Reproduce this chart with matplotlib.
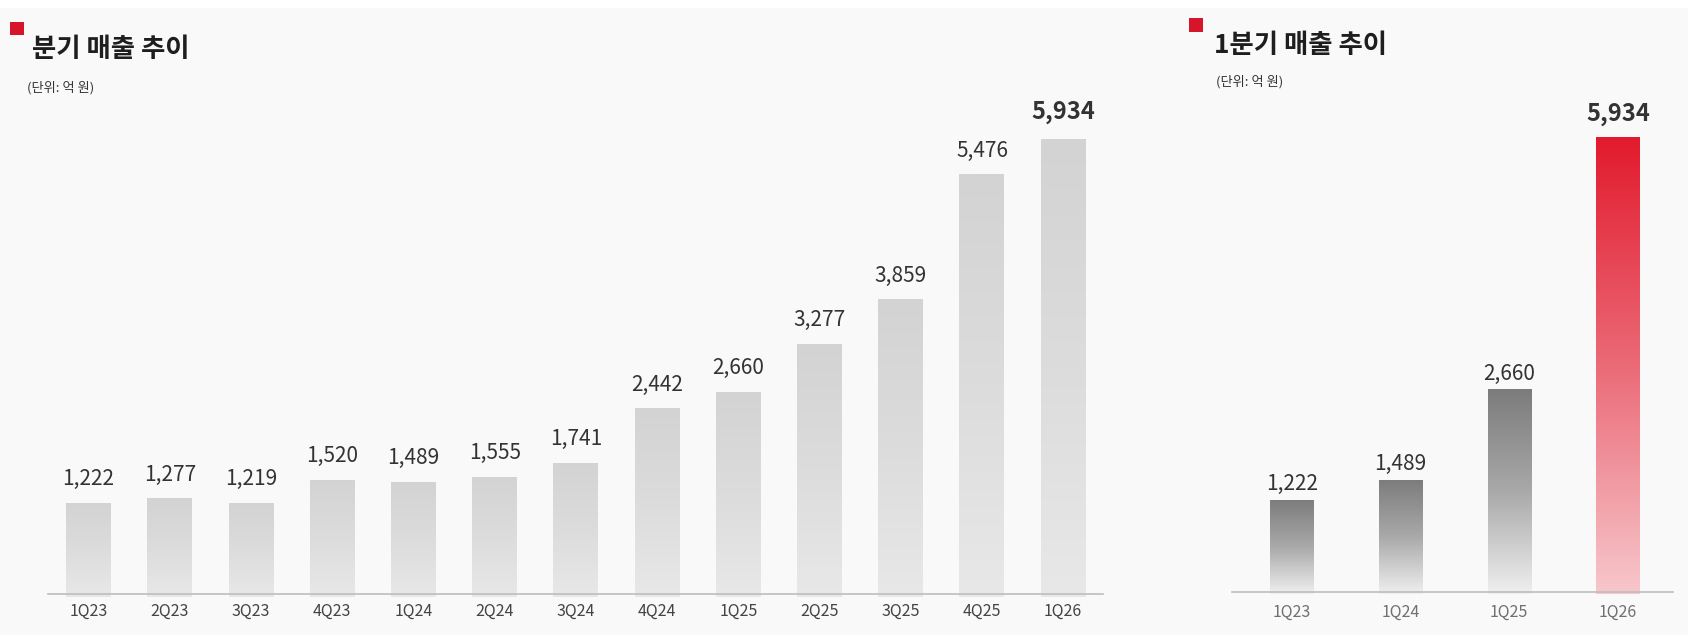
import numpy as np
import matplotlib
matplotlib.use('Agg')
import matplotlib.pyplot as plt
from matplotlib.colors import LinearSegmentedColormap
from matplotlib.patches import Rectangle

plt.rcParams['font.family'] = ['Noto Sans CJK KR', 'DejaVu Sans']

# data
quarters = ['1Q23', '2Q23', '3Q23', '4Q23', '1Q24', '2Q24', '3Q24',
            '4Q24', '1Q25', '2Q25', '3Q25', '4Q25', '1Q26']
sales = [1222, 1277, 1219, 1520, 1489, 1555, 1741,
         2442, 2660, 3277, 3859, 5476, 5934]

q1_labels = ['1Q23', '1Q24', '1Q25', '1Q26']
q1_sales = [1222, 1489, 2660, 5934]

W, H = 1692, 643
fig = plt.figure(figsize=(W / 100, H / 100), dpi=100, facecolor='white')
fig.add_artist(Rectangle((0, 8 / H), 1688 / W, 627 / H, transform=fig.transFigure,
                         facecolor='#f9f9f9', edgecolor='none', zorder=-10))

cm_light = LinearSegmentedColormap.from_list('light', ['#e8e8e8', '#dcdcdc', '#d3d3d3'])
cm_grey = LinearSegmentedColormap.from_list('grey', ['#efefef', '#a9a9a9', '#7c7c7c'])
cm_red = LinearSegmentedColormap.from_list('red', ['#f7c7cc', '#eb6a77', '#e21a2d'])
grad = np.linspace(0, 1, 256).reshape(-1, 1)


def px_axes(x0, x1, ytop, ybot):
    return fig.add_axes([x0 / W, 1 - ybot / H, (x1 - x0) / W, (ybot - ytop) / H])


def fill_gradient(ax, bars, cmaps):
    for b, cm in zip(bars, cmaps):
        x, w, h = b.get_x(), b.get_width(), b.get_height()
        im = ax.imshow(grad, extent=[x, x + w, 0, h], origin='lower', cmap=cm,
                       aspect='auto', zorder=2)
        im.set_clip_path(b)


def style(ax, color, pad):
    ax.set_facecolor('none')
    for s in ['top', 'right', 'left']:
        ax.spines[s].set_visible(False)
    ax.spines['bottom'].set_color('#bdbdbd')
    ax.spines['bottom'].set_linewidth(1.2)
    ax.set_yticks([])
    ax.tick_params(axis='x', length=0, pad=pad, labelsize=11.5, labelcolor=color)


# left chart: all quarters
ax1 = px_axes(48, 1103, 90, 594)
x = np.arange(len(quarters))
bars1 = ax1.bar(x, sales, width=0.554, facecolor='none', edgecolor='none')
fill_gradient(ax1, bars1, [cm_light] * len(sales))
ax1.set_xlim(-0.5, 12.49)
ax1.set_ylim(39, 6567)
ax1.set_xticks(x)
ax1.set_xticklabels(quarters)
style(ax1, '#444444', 6.5)
for i, v in enumerate(sales):
    last = i == len(sales) - 1
    ax1.annotate(f'{v:,}', (i, v), xytext=(0, 19.5 if last else 17), textcoords='offset points',
                 ha='center', va='center', fontsize=17 if last else 15,
                 fontweight='bold' if last else 'normal', color='#333333')

# right chart: first quarters only
ax2 = px_axes(1232, 1673, 90, 592)
x2 = np.arange(len(q1_labels))
bars2 = ax2.bar(x2, q1_sales, width=0.396, facecolor='none', edgecolor='none')
fill_gradient(ax2, bars2, [cm_grey, cm_grey, cm_grey, cm_red])
ax2.set_xlim(-0.552, 3.508)
ax2.set_ylim(31, 6547)
ax2.set_xticks(x2)
ax2.set_xticklabels(q1_labels)
style(ax2, '#707070', 8.5)
for i, v in enumerate(q1_sales):
    last = i == len(q1_sales) - 1
    ax2.annotate(f'{v:,}', (i, v), xytext=(0, 16.5 if last else 11.5), textcoords='offset points',
                 ha='center', va='center', fontsize=17 if last else 15,
                 fontweight='bold' if last else 'normal', color='#333333')

# titles
red = '#d7152a'
fig.add_artist(Rectangle((10 / W, 1 - 35 / H), 14 / W, 13 / H, transform=fig.transFigure,
                         facecolor=red, edgecolor='none'))
fig.text(32 / W, 1 - 57 / H, '분기 매출 추이', fontsize=19, fontweight='bold',
         color='#1e1e1e', va='baseline')
fig.text(27 / W, 1 - 88 / H, '(단위: 억 원)', fontsize=9.5, color='#333333', va='center')

fig.add_artist(Rectangle((1189 / W, 1 - 32 / H), 14 / W, 14 / H, transform=fig.transFigure,
                         facecolor=red, edgecolor='none'))
fig.text(1214 / W, 1 - 53 / H, '1분기 매출 추이', fontsize=19, fontweight='bold',
         color='#1e1e1e', va='baseline')
fig.text(1216 / W, 1 - 82 / H, '(단위: 억 원)', fontsize=9.5, color='#333333', va='center')

fig.savefig('out.png', dpi=100, facecolor=fig.get_facecolor())
